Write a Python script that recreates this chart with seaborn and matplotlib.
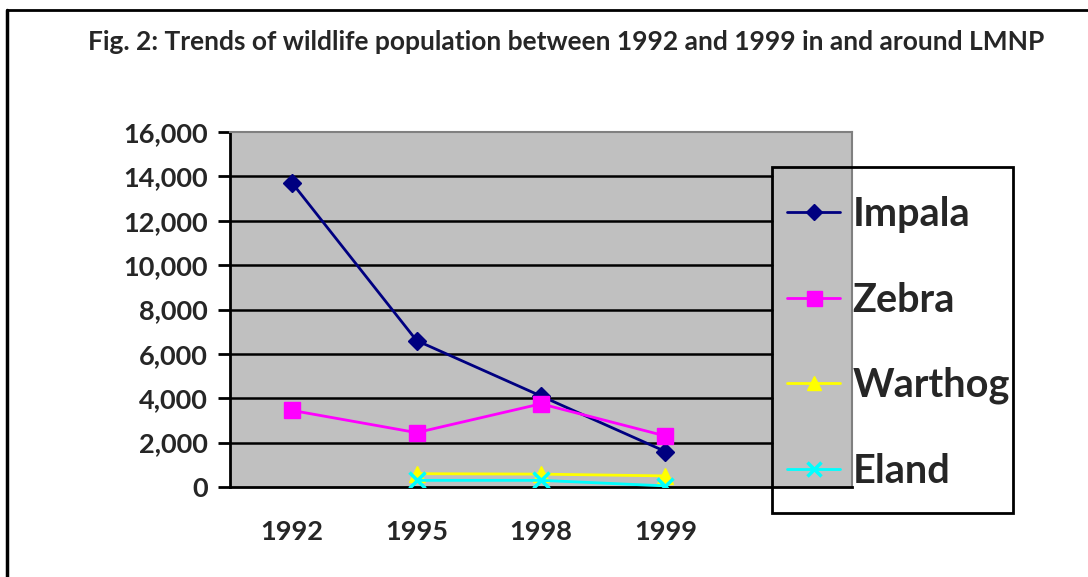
import seaborn as sns
import numpy as np
import pandas as pd
import matplotlib
matplotlib.use("Agg")
import matplotlib.pyplot as plt
from matplotlib.lines import Line2D
from matplotlib.patches import Rectangle
from matplotlib.ticker import FuncFormatter

years = ["1992", "1995", "1998", "1999"]
impala = [13700, 6600, 4100, 1600]
zebra = [3450, 2450, 3750, 2300]
warthog = [np.nan, 600, 580, 500]
eland = [np.nan, 300, 300, 50]

species = ["Impala", "Zebra", "Warthog", "Eland"]
colors = ["#000080", "#FF00FF", "#FFFF00", "#00FFFF"]
markers = ["D", "s", "^", "x"]
msizes = [9, 12, 11, 11]
yticks = [0, 2000, 4000, 6000, 8000, 10000, 12000, 14000, 16000]

sns.set_style("white")
plt.rcParams["font.family"] = ["Lato", "DejaVu Sans"]
plt.rcParams["font.weight"] = "bold"

fig = plt.figure(figsize=(10.88, 5.77), dpi=100)
W, H = 1088, 577
ax = fig.add_axes([230 / W, 1 - 487 / H, 622 / W, 355 / H])
ax.set_facecolor("#C0C0C0")

df = pd.DataFrame({"year": years, "Impala": impala, "Zebra": zebra,
                   "Warthog": warthog, "Eland": eland})

# gridlines stop where the legend box starts
for t in yticks[1:-1]:
    ax.axhline(t, xmin=0, xmax=(772 - 230) / 622, color="black", lw=1.8, zorder=1)

for name, c, m, ms in zip(species, colors, markers, msizes):
    sub = df[["year", name]].dropna()
    sns.lineplot(data=sub, x="year", y=name, color=c, marker=m, markersize=ms,
                 markeredgecolor=c, markeredgewidth=2.5 if m == "x" else 1,
                 lw=2, sort=False, ax=ax, zorder=3, legend=False)

ax.set_xlim(-0.5, 4.5)
ax.set_ylim(0, 16000)
ax.set_yticks(yticks)
ax.yaxis.set_major_formatter(FuncFormatter(lambda v, p: f"{int(v):,}"))
ax.set_xticks(range(len(years)))
ax.set_xticklabels(years)
ax.set_xticks(np.arange(-0.5, 5.0, 1.0), minor=True)
ax.tick_params(axis="x", which="major", length=0, pad=24, labelsize=19.5)
ax.tick_params(axis="x", which="minor", length=9, width=2, color="black", direction="out")
ax.tick_params(axis="y", length=9, width=2, color="black", direction="out",
               labelsize=19.5, pad=7, left=True)
for lab in ax.get_xticklabels() + ax.get_yticklabels():
    lab.set_fontweight("bold")
ax.set_xlabel("")
ax.set_ylabel("")
ax.spines["left"].set_color("black")
ax.spines["left"].set_linewidth(2)
ax.spines["bottom"].set_color("black")
ax.spines["bottom"].set_linewidth(2)
ax.spines["top"].set_color("#808080")
ax.spines["right"].set_color("#808080")
ax.spines["top"].set_linewidth(1.5)
ax.spines["right"].set_linewidth(1.5)

fig.text(566 / W, 1 - 42 / H, "Fig. 2: Trends of wildlife population between 1992 and 1999 in and around LMNP",
         ha="center", va="center", fontsize=19, fontweight="bold")

handles = [Line2D([], [], color=c, marker=m, markersize=ms * 0.9, lw=2,
                  markeredgecolor=c, markeredgewidth=2.5 if m == "x" else 1)
           for c, m, ms in zip(colors, markers, msizes)]
leg = fig.legend(handles, species, loc="center left",
                 bbox_to_anchor=(787 / W, 1 - 343 / H), frameon=False,
                 prop={"size": 28.5, "weight": "bold"}, handlelength=1.35,
                 handletextpad=0.3, labelspacing=1.22, borderpad=0, borderaxespad=0)

fig.patches.append(Rectangle((772 / W, 1 - 513 / H), (1013 - 772) / W, (513 - 167) / H,
                             transform=fig.transFigure, fill=False,
                             edgecolor="black", lw=2, zorder=5))
fig.add_artist(Line2D([7 / W, 1], [1 - 10 / H, 1 - 10 / H], color="black", lw=2,
                      transform=fig.transFigure))
fig.add_artist(Line2D([7 / W, 7 / W], [0, 1 - 10 / H], color="black", lw=2.5,
                      transform=fig.transFigure))

fig.savefig("out.png", dpi=100)
